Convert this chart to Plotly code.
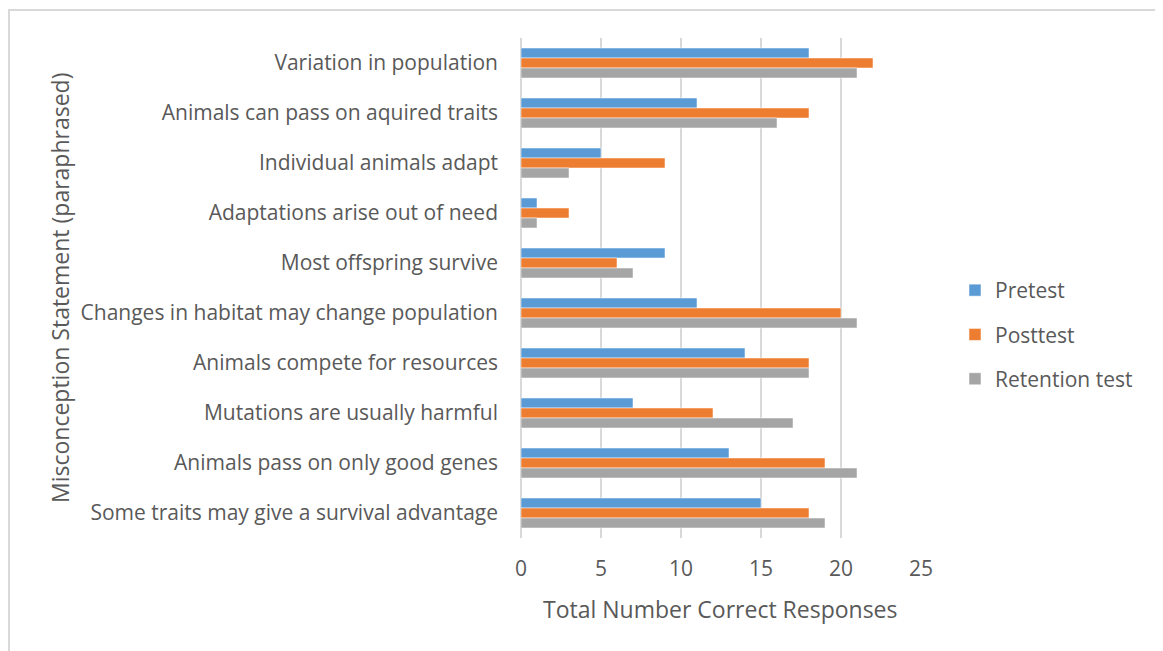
import plotly.graph_objects as go

categories = [
    "Variation in population",
    "Animals can pass on aquired traits",
    "Individual animals adapt",
    "Adaptations arise out of need",
    "Most offspring survive",
    "Changes in habitat may change population",
    "Animals compete for resources",
    "Mutations are usually harmful",
    "Animals pass on only good genes",
    "Some traits may give a survival advantage",
]
pretest = [18, 11, 5, 1, 9, 11, 14, 7, 13, 15]
posttest = [22, 18, 9, 3, 6, 20, 18, 12, 19, 18]
retention = [21, 16, 3, 1, 7, 21, 18, 17, 21, 19]
x_ticks = [0, 5, 10, 15, 20, 25]

W, H = 1163, 651
OFF = 8  # page body margin offset
L, R, T, B = 521 - OFF, 242 + OFF, 38 - OFF, 113 + OFF
FONT = "Open Sans"
TXT = "#595959"

series = [("Pretest", pretest, "#5B9BD5"),
          ("Posttest", posttest, "#ED7D31"),
          ("Retention test", retention, "#A5A5A5")]

fig = go.Figure()
for i, (name, vals, col) in enumerate(series):
    fig.add_trace(go.Bar(
        y=categories, x=vals, name=name, orientation="h",
        marker=dict(color=col, line=dict(color="white", width=0.5)),
        legendgroup=str(i),
    ))

def px_x(p):
    return (p - OFF - L) / (W - L - R)

def px_y(p):
    return (H - B - (p - OFF)) / (H - T - B)

fig.update_layout(
    width=W, height=H,
    margin=dict(l=L, r=R, t=T, b=B, autoexpand=False),
    paper_bgcolor="white", plot_bgcolor="white",
    barmode="group", bargap=0.4, bargroupgap=0,
    font=dict(family=FONT, size=21, color=TXT),
    showlegend=True,
    legend=dict(x=px_x(955), y=px_y(270), xanchor="left", yanchor="top",
                traceorder="grouped", tracegroupgap=14,
                font=dict(family=FONT, size=21, color=TXT),
                itemwidth=30, bgcolor="rgba(0,0,0,0)"),
    xaxis=dict(range=[0, 25], tickvals=x_ticks, showgrid=True,
               gridcolor="#D9D9D9", gridwidth=2, zeroline=True,
               zerolinecolor="#D9D9D9", zerolinewidth=2, showline=False,
               ticks="", tickfont=dict(size=21, color=TXT), ticklabelstandoff=16),
    yaxis=dict(autorange="reversed", showgrid=False, ticks="",
               tickfont=dict(size=21, color=TXT), ticklabelstandoff=22,
               showline=False),
    shapes=[dict(type="rect", xref="paper", yref="paper",
                 x0=px_x(9), x1=px_x(1160), y0=px_y(670), y1=px_y(10),
                 line=dict(color="#D9D9D9", width=2), layer="below")],
    annotations=[
        dict(text="Total Number Correct Responses", xref="paper", yref="paper",
             x=px_x(720), y=px_y(609), xanchor="center", yanchor="middle",
             showarrow=False, font=dict(family=FONT, size=23, color=TXT)),
        dict(text="Misconception Statement (paraphrased)", xref="paper", yref="paper",
             x=px_x(60), y=px_y(288), xanchor="center", yanchor="middle",
             textangle=-90, showarrow=False,
             font=dict(family=FONT, size=23, color=TXT)),
    ],
)

fig.write_html("out.html")
